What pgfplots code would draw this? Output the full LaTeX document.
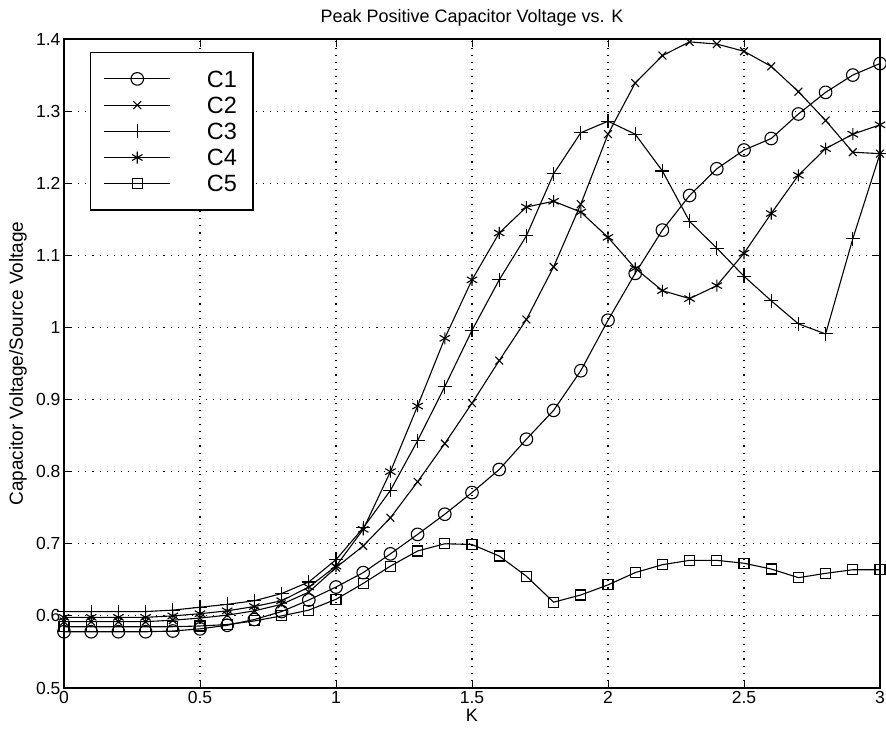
\documentclass[border=0pt]{standalone}
\usepackage{pgfplots}
\pgfplotsset{compat=1.18}
\usepackage{pgfplotstable}
\usepackage{fontspec}
\setmainfont{Liberation Sans}

\pgfplotstableread{
x    c1    c2    c3    c4    c5
0.0  0.578 0.592 0.606 0.598 0.585
0.1  0.578 0.592 0.606 0.598 0.585
0.2  0.578 0.592 0.606 0.598 0.585
0.3  0.578 0.592 0.606 0.598 0.585
0.4  0.579 0.594 0.608 0.600 0.585
0.5  0.582 0.597 0.612 0.603 0.586
0.6  0.587 0.601 0.616 0.607 0.588
0.7  0.595 0.607 0.621 0.613 0.593
0.8  0.606 0.616 0.631 0.621 0.600
0.9  0.622 0.633 0.647 0.640 0.608
1.0  0.640 0.667 0.678 0.669 0.623
1.1  0.660 0.697 0.722 0.720 0.645
1.2  0.686 0.736 0.774 0.800 0.669
1.3  0.713 0.786 0.843 0.891 0.690
1.4  0.741 0.839 0.918 0.985 0.700
1.5  0.771 0.895 0.996 1.066 0.699
1.6  0.803 0.954 1.066 1.131 0.683
1.7  0.845 1.011 1.127 1.167 0.655
1.8  0.885 1.084 1.213 1.175 0.619
1.9  0.940 1.171 1.270 1.160 0.629
2.0  1.010 1.268 1.286 1.125 0.643
2.1  1.075 1.339 1.268 1.082 0.660
2.2  1.135 1.377 1.217 1.051 0.671
2.3  1.183 1.396 1.147 1.040 0.677
2.4  1.220 1.393 1.110 1.058 0.677
2.5  1.246 1.383 1.071 1.103 0.673
2.6  1.262 1.362 1.037 1.158 0.665
2.7  1.296 1.327 1.005 1.211 0.653
2.8  1.326 1.287 0.991 1.248 0.659
2.9  1.350 1.243 1.123 1.268 0.664
3.0  1.366 1.241 1.241 1.281 0.664
}\datatable

\begin{document}
\begin{tikzpicture}
\useasboundingbox (0,0) rectangle (886pt,733pt);
\begin{axis}[
  at={(64pt,45pt)}, anchor=south west,
  scale only axis, width=816pt, height=649pt,
  xmin=0, xmax=3, ymin=0.5, ymax=1.4,
  xtick={0,0.5,1,1.5,2,2.5,3},
  ytick={0.5,0.6,0.7,0.8,0.9,1,1.1,1.2,1.3,1.4},
  /pgf/number format/assume math mode=true,
  tick label style={font=\fontsize{17.5}{19}\selectfont},
  tick align=inside, major tick length=8pt,
  every tick/.style={black, line width=1pt},
  axis line style={line width=1.4pt},
  grid=major,
  major grid style={black, line width=1.1pt, dash pattern=on 1.1pt off 6pt},
  title={Peak Positive Capacitor Voltage vs. K},
  title style={at={(axis description cs:0.5,1.023)}, anchor=center, font=\fontsize{18}{20}\selectfont},
  xlabel={K},
  xlabel style={at={(axis description cs:0.5,-0.042)}, anchor=center, font=\fontsize{18}{20}\selectfont},
  ylabel={Capacitor Voltage/Source Voltage},
  ylabel style={at={(axis description cs:-0.0564,0.5)}, anchor=center, font=\fontsize{19}{21}\selectfont},
  every axis plot/.append style={black, line width=1.1pt, mark options={solid, line width=1.1pt}},
  legend image code/.code={\draw[mark repeat=2,mark phase=2] plot coordinates {(0pt,0pt) (33pt,0pt) (66pt,0pt)};},
  legend cell align=left,
  legend style={at={(axis description cs:0.0319,0.98)}, anchor=north west,
    draw=black, line width=1.4pt, fill=white,
    font=\fontsize{23.5}{25}\selectfont,
    inner xsep=13pt, inner ysep=15pt, row sep=3.8pt,
    nodes={inner sep=3pt, text depth=0pt},
    /tikz/every odd column/.append style={column sep=33pt}},
]
\addplot[mark=o, mark size=6.3pt] table[x=x,y=c1]{\datatable};
\addlegendentry{C1}
\addplot[mark=x, mark size=5.5pt] table[x=x,y=c2]{\datatable};
\addlegendentry{C2}
\addplot[mark=+, mark size=7pt] table[x=x,y=c3]{\datatable};
\addlegendentry{C3}
\addplot[mark=asterisk, mark size=6pt] table[x=x,y=c4]{\datatable};
\addlegendentry{C4}
\addplot[mark=square, mark size=5pt] table[x=x,y=c5]{\datatable};
\addlegendentry{C5}
\end{axis}
\end{tikzpicture}
\end{document}
